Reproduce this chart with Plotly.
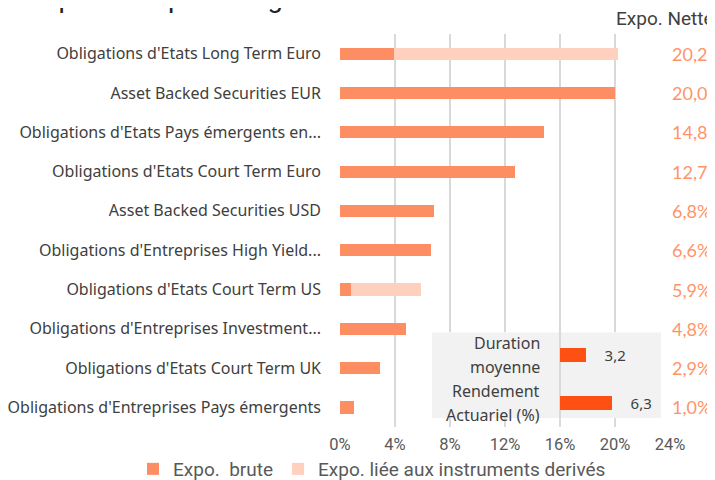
import plotly.graph_objects as go

categories = [
    "Obligations d'Etats Long Term Euro",
    "Asset Backed Securities EUR",
    "Obligations d'Etats Pays émergents en...",
    "Obligations d'Etats Court Term Euro",
    "Asset Backed Securities USD",
    "Obligations d'Entreprises High Yield...",
    "Obligations d'Etats Court Term US",
    "Obligations d'Entreprises Investment...",
    "Obligations d'Etats Court Term UK",
    "Obligations d'Entreprises Pays émergents",
]
expo_brute = [3.9, 20.0, 14.8, 12.7, 6.8, 6.6, 0.8, 4.8, 2.9, 1.0]
expo_derives = [16.3, 0, 0, 0, 0, 0, 5.1, 0, 0, 0]
expo_nette = ["20,2%", "20,0%", "14,8%", "12,7%", "6,8%", "6,6%", "5,9%", "4,8%", "2,9%", "1,0%"]
x_ticks = [0, 4, 8, 12, 16, 20, 24]

inset_labels = [["Duration", "moyenne"], ["Rendement", "Actuariel (%)"]]
inset_values = [3.2, 6.3]
inset_text = ["3,2", "6,3"]

C_BRUTE = "#FD8D62"
C_DER = "#FFD0BE"
C_INSET = "#FF5014"
COND = "Liberation Sans Narrow, Roboto, sans-serif"
CAT_FONT = "Noto Sans, sans-serif"

# inset axis ranges
X2_RANGE = [-15.6, 12.32]
Y2_RANGE = [1.3125, -0.479]

fig = go.Figure()
fig.add_trace(go.Bar(
    y=categories, x=expo_brute, orientation="h", name="Expo.  brute",
    marker=dict(color=C_BRUTE, line=dict(width=0)), width=0.31,
    hoverinfo="skip",
))
fig.add_trace(go.Bar(
    y=categories, x=expo_derives, orientation="h",
    name="Expo. liée aux instruments derivés",
    marker=dict(color=C_DER, line=dict(width=0)), width=0.31,
    hoverinfo="skip",
))
fig.add_trace(go.Bar(
    y=list(range(len(inset_values))), x=inset_values, orientation="h",
    xaxis="x2", yaxis="y2",
    marker=dict(color=C_INSET, line=dict(width=0)), width=0.29,
    text=["    " + t for t in inset_text], textposition="outside",
    constraintext="none",
    textfont=dict(family=CAT_FONT, size=15, color="#404040"),
    cliponaxis=False, showlegend=False, hoverinfo="skip",
))

for i, lines in enumerate(inset_labels):
    for j, line in enumerate(lines):
        fig.add_annotation(
            x=0, y=i, xref="x2", yref="y2", text=line, showarrow=False,
            xanchor="right", align="right", xshift=-18,
            yshift=12 if j == 0 else -12,
            font=dict(family=CAT_FONT, size=16, color="#404040"),
        )

for cat, lab in zip(categories, expo_nette):
    fig.add_annotation(
        x=24, y=cat, xref="x", yref="y", text=lab, showarrow=False,
        xanchor="left", xshift=0,
        font=dict(family="Lato, sans-serif", size=18, color="#FF9468"),
    )

# gray inset background (drawn in inset subplot, above main gridlines)
fig.add_shape(type="rect", xref="x2", yref="y2",
              x0=X2_RANGE[0], x1=X2_RANGE[1], y0=Y2_RANGE[1], y1=Y2_RANGE[0],
              fillcolor="#F2F2F2", line=dict(width=0), layer="below")

fig.add_annotation(xref="paper", yref="paper", x=0.02378, y=1.0217,
                   xanchor="left", yanchor="middle", showarrow=False,
                   text="Répartition par catégories",
                   font=dict(family="Roboto, sans-serif", size=27.5, color="#222222"))
fig.add_annotation(xref="paper", yref="paper", x=0.84755, y=0.97867,
                   xanchor="left", yanchor="middle", showarrow=False,
                   text="Expo. Nette",
                   font=dict(family=COND, size=19, color="#404040"))

fig.update_layout(
    width=715, height=480,
    margin=dict(l=0, r=0, t=0, b=0),
    barmode="stack",
    bargap=0,
    plot_bgcolor="white", paper_bgcolor="white",
    showlegend=True,
    legend=dict(orientation="h", x=0.17483, y=0.0375,
                xanchor="left", yanchor="middle",
                bgcolor="rgba(0,0,0,0)",
                font=dict(family=COND, size=19, color="#595959"),
                itemwidth=30, traceorder="normal"),
    xaxis=dict(domain=[0.46434, 0.92587], range=[0, 24], tickvals=x_ticks,
               ticktext=[f"{v}%" for v in x_ticks],
               showgrid=True, gridcolor="#D9D9D9", gridwidth=1.5,
               zeroline=False, showline=False, ticks="", automargin=False,
               tickfont=dict(family=COND, size=16.5, color="#595959"),
               ticklabelstandoff=5, fixedrange=True),
    yaxis=dict(domain=[0.125, 0.94583], autorange="reversed",
               showgrid=False, zeroline=False,
               ticks="", ticklabelstandoff=18, automargin=False,
               tickfont=dict(family=CAT_FONT, size=16, color="#404040"),
               fixedrange=True),
    xaxis2=dict(domain=[0.59301, 0.91329], range=X2_RANGE, anchor="y2",
                showgrid=False, zeroline=True, zerolinecolor="#D9D9D9",
                zerolinewidth=1.5, showline=False, automargin=False,
                showticklabels=False, ticks="", fixedrange=True),
    yaxis2=dict(domain=[0.14375, 0.32292], range=Y2_RANGE, anchor="x2",
                showgrid=False, zeroline=False, showline=False, automargin=False,
                showticklabels=False, ticks="", fixedrange=True),
)

fig.write_html("out.html")
